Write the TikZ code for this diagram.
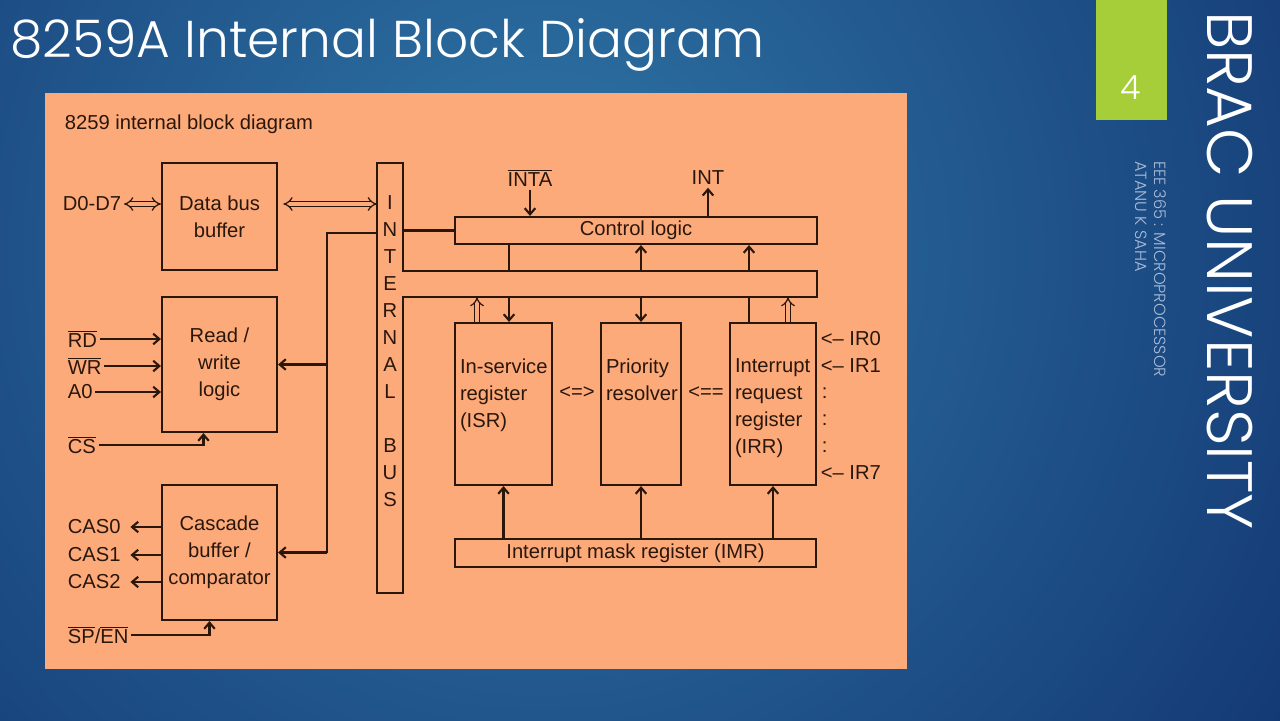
\documentclass[tikz,border=0pt]{standalone}
\usepackage{fontspec}
\setmainfont{Liberation Sans}
\newfontfamily\slidefont{Poppins Light}
\usetikzlibrary{arrows.meta, calc}

\definecolor{slidenavy}{HTML}{0F2E6C}
\definecolor{slideteal}{HTML}{2F76A6}
\definecolor{panel}{HTML}{FDAA7A}
\definecolor{ink}{HTML}{2A170C}
\definecolor{lime}{HTML}{A6CE39}
\definecolor{paleblue}{HTML}{A9BCD8}

\begin{document}
\begin{tikzpicture}[
            x=0.02cm, y=-0.02cm,
            font=\fontsize{11.5}{15.3}\selectfont,
            line width=1.2pt
        ]

        \tikzstyle{blk}=[draw=ink, text=ink, inner sep=0pt, align=center]
        \tikzstyle{lbl}=[text=ink, inner sep=1pt]
        \tikzstyle{wire}=[draw=ink]
        \tikzstyle{sig}=[draw=ink, -{Straight Barb[length=3.5pt,width=6pt]}]
        \tikzstyle{dbl}=[draw=ink, line width=0.7pt, double=panel, double distance=2pt, {Implies}-{Implies}]
        \tikzstyle{dup}=[draw=ink, line width=0.7pt, double=panel, double distance=2pt, -{Implies}]
        \tikzstyle{side}=[rotate=-90, anchor=base west, inner sep=0pt]

        \useasboundingbox (0,0) rectangle (1280,720);

        % slide
        \fill[slidenavy] (0,0) rectangle (1280,720);
        \begin{scope}
            \clip (0,0) rectangle (1280,720);
            \shade[inner color=slideteal, outer color=slidenavy] (540,250) circle (1050);
        \end{scope}
        \node[anchor=base west, inner sep=0pt, text=white, font=\slidefont\fontsize{29.5}{36}\selectfont] (title) at (9,57) {8259A Internal Block Diagram};
        \fill[lime] (1096,0) rectangle (1167,120);
        \node[text=white, font=\slidefont\fontsize{19}{22}\selectfont] (page) at (1131,88) {4};
        \node[side, text=white, font=\slidefont\fontsize{36.5}{40}\selectfont] (uni) at (1207,10) {BRAC UNIVERSITY};
        \node[side, text=paleblue, font=\slidefont\fontsize{9.2}{10}\selectfont] (course) at (1154,160) {EEE 365 : MICROPROCESSOR};
        \node[side, text=paleblue, font=\slidefont\fontsize{9.2}{10}\selectfont] (author) at (1135,160) {ATANU K SAHA};

        % picture of the 8259
        \fill[panel] (45,93) rectangle (907,669);
        \node[lbl, anchor=west] (head) at (62,124) {8259 internal block diagram};

        \node[blk, minimum width=2.30cm, minimum height=2.14cm] (dbb) at (219.5,216.5) {Data bus\\buffer};
        \node[blk, minimum width=2.30cm, minimum height=2.70cm] (rw) at (219.5,364.5) {Read /\\write\\logic};
        \node[blk, minimum width=2.30cm, minimum height=2.70cm] (cas) at (219.5,552.5) {Cascade\\buffer /\\comparator};

        \node[lbl, anchor=east] (d07) at (124,204) {D0-D7};
        \node[lbl, anchor=west] (rd) at (65,339) {$\overline{\mbox{RD}}$};
        \node[lbl, anchor=west] (wr) at (65,366) {$\overline{\mbox{WR}}$};
        \node[lbl, anchor=west] (a0) at (65,392) {A0};
        \node[lbl, anchor=west] (cs) at (65,445) {$\overline{\mbox{CS}}$};
        \node[lbl, anchor=west] (cas0) at (65,527) {CAS0};
        \node[lbl, anchor=west] (cas1) at (65,555) {CAS1};
        \node[lbl, anchor=west] (cas2) at (65,582) {CAS2};
        \node[lbl, anchor=west] (spen) at (65,635) {$\overline{\mbox{SP}}$/$\overline{\mbox{EN}}$};

        % internal bus
        \node[inner sep=0pt, outer sep=0pt, minimum width=0.52cm, minimum height=8.60cm] (bus) at (390,378) {};
        \node[inner sep=0pt, outer sep=0pt, minimum width=8.28cm, minimum height=0.52cm] (hbus) at (610,284) {};
        \draw[wire] (bus.north west) -- (bus.north east) -- (bus.east |- hbus.north)
            -- (hbus.north east) -- (hbus.south east) -- (bus.east |- hbus.south)
            -- (bus.south east) -- (bus.south west) -- cycle;
        \foreach \c [count=\i] in {I,N,T,E,R,N,A,L,{},B,U,S}
            \node[lbl] (bl\i) at (390,176+27*\i) {\c};

        \node[blk, minimum width=7.24cm, minimum height=0.54cm] (ctl) at (636,230.5) {Control logic};
        \node[blk, minimum width=1.94cm, minimum height=3.24cm] (isr) at (503.5,404) {};
        \node[blk, minimum width=1.60cm, minimum height=3.24cm] (pr) at (641,404) {};
        \node[blk, minimum width=1.72cm, minimum height=3.24cm] (irr) at (773,404) {};
        \node[blk, minimum width=7.22cm, minimum height=0.56cm] (imr) at (635.5,553) {Interrupt mask register (IMR)};
        \node[lbl, anchor=north west, inner sep=0pt, align=left] (isrtxt) at ([shift={(5,36)}]isr.north west) {In-service\\register\\(ISR)};
        \node[lbl, anchor=north west, inner sep=0pt, align=left] (prtxt) at ([shift={(5,36)}]pr.north west) {Priority\\resolver};
        \node[lbl, anchor=north west, inner sep=0pt, align=left] (irrtxt) at ([shift={(5,36)}]irr.north west) {Interrupt\\request\\register\\(IRR)};
        \node[lbl] (ispr) at (577,393) {<=>};
        \node[lbl] (prir) at (706,393) {<==};

        \node[lbl] (inta) at (530,178) {$\overline{\mbox{INTA}}$};
        \node[lbl] (int) at (708,178) {INT};
        \foreach \t/\y in {IR0/339, IR1/366, IR7/473}
            \node[lbl, anchor=west] (\t) at (818,\y) {<-- \t};
        \foreach \y in {393, 420, 447}
            \node[lbl, anchor=west] (dots\y) at (819,\y) {:};

        % left side
        \draw[dbl] (d07) -- (d07 -| dbb.west);
        \draw[dbl, shorten <=3pt] (d07 -| dbb.east) -- (d07 -| bus.west);
        \foreach \s in {rd, wr, a0}
            \draw[sig] (\s) -- (\s -| rw.west);
        \draw[sig] (cs) -| ($(rw.south)+(-16,0)$);
        \foreach \s in {cas0, cas1, cas2}
            \draw[sig, shorten >=4pt] (\s -| cas.west) -- (\s);
        \draw[sig] (spen) -| ($(cas.south)+(-10,0)$);

        \coordinate (tap) at (327,233);
        \draw[wire] (bus.west |- tap) -- (tap) -- (tap |- cas.east);
        \draw[sig] (tap |- rw.east) -- (rw.east);
        \draw[sig] (tap |- cas.east) -- (cas.east);

        % right side
        \draw[wire] (bus.east |- ctl.west) -- (ctl.west);
        \draw[sig] (inta) -- (inta |- ctl.north);
        \draw[sig] (int |- ctl.north) -- (int);

        \coordinate (xa) at (509,284);
        \coordinate (xc) at (749,284);
        \coordinate (xd) at (477,284);
        \coordinate (xe) at (788,284);
        \draw[wire] (xa |- ctl.south) -- (xa |- hbus.north);
        \draw[sig] (xa |- hbus.south) -- (xa |- isr.north);
        \draw[sig] (pr.north |- hbus.north) -- (pr.north |- ctl.south);
        \draw[sig] (pr.north |- hbus.south) -- (pr.north);
        \draw[sig] (xc |- hbus.north) -- (xc |- ctl.south);
        \draw[wire] (xc |- hbus.south) -- (xc |- irr.north);
        \draw[dup] (xd |- isr.north) -- (xd |- hbus.south);
        \draw[dup] (xe |- irr.north) -- (xe |- hbus.south);
        \foreach \b in {isr, pr, irr}
            \draw[sig] (\b.south |- imr.north) -- (\b.south);

    \end{tikzpicture}
\end{document}
